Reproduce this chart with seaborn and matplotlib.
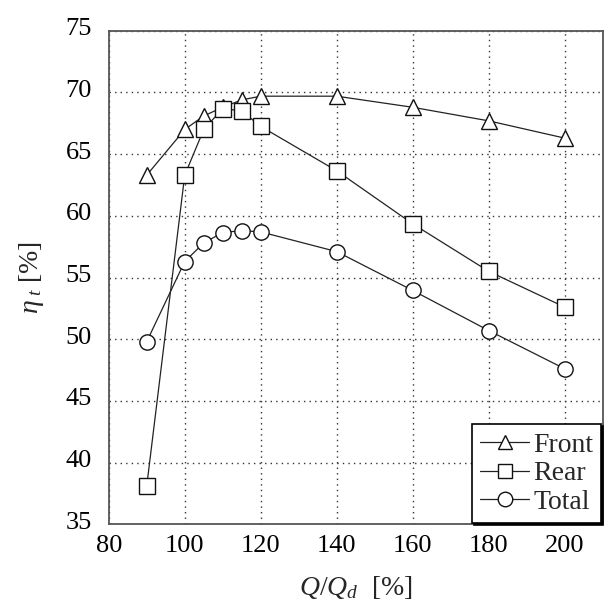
import matplotlib
matplotlib.use("Agg")
import matplotlib.pyplot as plt
from matplotlib.transforms import ScaledTranslation
import seaborn as sns
import pandas as pd

flow = [90, 100, 105, 110, 115, 120, 140, 160, 180, 200]
front = [63.3, 67.0, 68.1, 68.8, 69.4, 69.7, 69.7, 68.8, 67.7, 66.3]
rear = [38.1, 63.3, 67.0, 68.7, 68.5, 67.25, 63.65, 59.35, 55.5, 52.6]
total = [49.8, 56.3, 57.8, 58.65, 58.8, 58.7, 57.1, 53.95, 50.7, 47.6]
series_names = ["Front", "Rear", "Total"]
markers = {"Front": "^", "Rear": "s", "Total": "o"}

df = pd.concat([
    pd.DataFrame({"Q": flow, "eta": v, "series": n})
    for n, v in zip(series_names, [front, rear, total])
])

sns.set_theme(style="white")
plt.rcParams["font.family"] = ["Liberation Serif", "DejaVu Serif"]
plt.rcParams["mathtext.fontset"] = "custom"
plt.rcParams["mathtext.rm"] = "Liberation Serif"
plt.rcParams["mathtext.it"] = "Liberation Serif:italic"

fig = plt.figure(figsize=(6.04, 6.04), dpi=100)
ax = fig.add_axes([0.18, 0.132, 0.818, 0.817])

for n in series_names:
    sub = df[df.series == n]
    sns.lineplot(data=sub, x="Q", y="eta", ax=ax, color="#222222", lw=0.9,
                 marker=markers[n], markersize=11, markerfacecolor="white",
                 markeredgecolor="#111111", markeredgewidth=1.0, label=n,
                 estimator=None, sort=False)

ax.set_xlim(80, 210)
ax.set_ylim(35, 75)
ax.set_xticks([80, 100, 120, 140, 160, 180, 200])
ax.set_yticks(range(35, 80, 5))
ax.grid(True, color="#333333", linestyle=(0, (1, 3)), linewidth=1.0)
ax.tick_params(labelsize=19, length=0, colors="black")
ax.tick_params(axis="x", pad=8)
ax.tick_params(axis="y", pad=12)
for lab in ax.get_yticklabels():
    lab.set_transform(lab.get_transform() + ScaledTranslation(0, 0.04, fig.dpi_scale_trans))
for s in ax.spines.values():
    s.set_color("#555555")
    s.set_linewidth(1.3)
ax.set_xlabel(r"$Q/Q_d$  [%]", fontsize=20, labelpad=12)
ax.set_ylabel(r"$\eta_{\ t}$ [%]", fontsize=20, labelpad=14)

leg = ax.legend(loc="lower right", fontsize=20, frameon=True, fancybox=False,
                shadow={"color": "black", "alpha": 1, "ox": 1.5, "oy": -1.5},
                borderaxespad=0.05, handlelength=1.75,
                handletextpad=0.15, borderpad=0.3, labelspacing=0.1,
                markerscale=0.95)
leg.get_frame().set_edgecolor("black")
leg.get_frame().set_linewidth(1.2)
leg.get_frame().set_alpha(1)

fig.savefig("out.png", dpi=100)
